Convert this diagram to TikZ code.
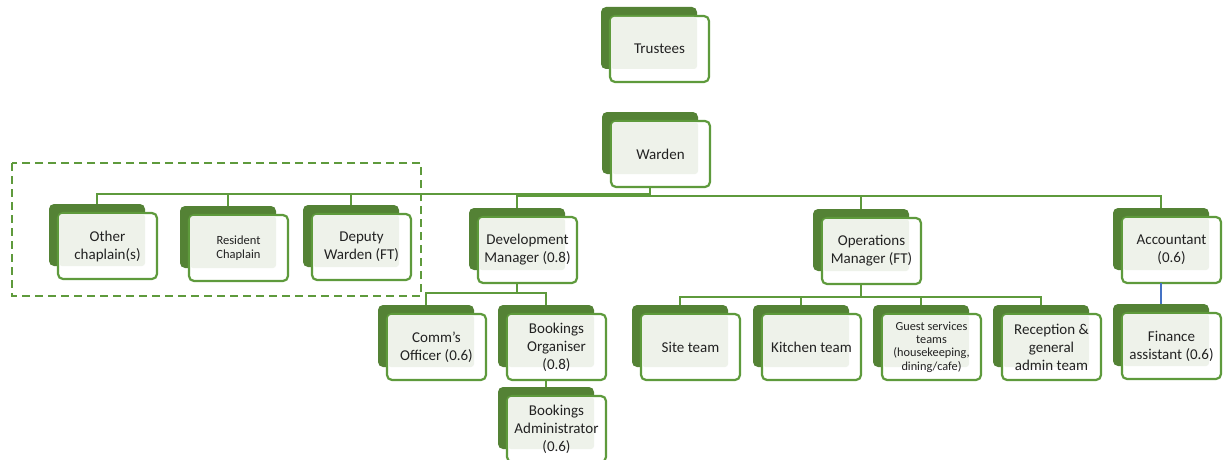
\documentclass[tikz,border=0pt]{standalone}
\usepackage{fontspec}
\setmainfont{Carlito}
\definecolor{gdark}{HTML}{548235}
\definecolor{gline}{HTML}{5E9A3C}
\definecolor{glight}{HTML}{EEF2EA}
\definecolor{txt}{HTML}{222222}
\definecolor{blueline}{HTML}{4472C4}
\tikzset{
 backbox/.style={fill=gdark, rounded corners=5pt, minimum width=96pt, minimum height=62pt, inner sep=0pt, outer sep=0pt},
 framebox/.style={fill=white, draw=gline, line width=2.2pt, rounded corners=5pt, minimum width=99pt, minimum height=66pt, inner sep=0pt, outer sep=0pt},
 labelbox/.style={minimum width=99pt, minimum height=66pt, inner sep=0pt, outer sep=0pt, align=center, text=txt, font=\fontsize{15}{18}\selectfont},
 conn/.style={draw=gline, line width=2.2pt},
 smalltxt/.style={font=\fontsize{12.5}{14}\selectfont},
 tinytxt/.style={font=\fontsize{12.3}{13.4}\selectfont},
}
\newcommand\orgbox[5][]{%
 \node[backbox] (#2B) at (#3+48,#4+31) {};
 \node[framebox] (#2F) at (#3+58.5,#4+42) {};
 \fill[glight, rounded corners=3pt] (#3+10,#4+10) rectangle (#3+96,#4+62);
 \node[labelbox,#1] (#2) at (#3+58.5,#4+42) {#5};
}
\begin{document}
\begin{tikzpicture}[x=1pt,y=-1pt]
\useasboundingbox (0,0) rectangle (1224,460);
\fill[white] (0,0) rectangle (1224,460);

\orgbox{trust}{601}{7}{Trustees}
\orgbox{ward}{602}{112}{Warden}
\orgbox{oc}{49}{204}{Other\\chaplain(s)}
\orgbox[smalltxt]{rc}{180}{206}{Resident\\Chaplain}
\orgbox{dw}{303}{205}{Deputy\\Warden (FT)}
\orgbox{dev}{469}{208}{Development\\Manager (0.8)}
\orgbox{ops}{813}{209}{Operations\\Manager (FT)}
\orgbox{acc}{1113}{208}{Accountant\\(0.6)}
\orgbox{co}{378}{305}{Comm’s\\Officer (0.6)}
\orgbox{bo}{498}{305}{Bookings\\Organiser\\(0.8)}
\orgbox{ba}{498}{387}{Bookings\\Administrator\\(0.6)}
\orgbox{st}{632}{305}{Site team}
\orgbox{kt}{753}{305}{Kitchen team}
\orgbox[tinytxt]{gs}{873}{305}{Guest services\\teams\\(housekeeping,\\dining/cafe)}
\orgbox{ra}{993}{305}{Reception \&\\general\\admin team}
\orgbox{fin}{1113}{304}{Finance\\assistant (0.6)}

\coordinate (busL) at (0,194);
\coordinate (busR) at (0,196);
\coordinate (busD) at (0,293);
\coordinate (busO) at (0,297);

% Warden to its reports
\draw[conn] (wardB |- ward.south) -- (wardB |- busR);
\draw[conn] (wardB |- busL) -| (ocB.north);
\draw[conn] (rcB.north) -- (rcB.north |- busL);
\draw[conn] (dwB.north) -- (dwB.north |- busL);
\draw[conn] (devB.north) |- (accB.north |- busR) -- (accB.north);
\draw[conn] (opsB.north) -- (opsB.north |- busR);

% Development manager
\draw[conn] (devB |- dev.south) -- (devB |- busD);
\draw[conn] (coB.north) |- (boB.north |- busD) -- (boB.north);
\draw[conn] (boB |- bo.south) -- (boB |- baB.north);

% Operations manager
\draw[conn] (opsB |- ops.south) -- (opsB |- busO);
\draw[conn] (stB.north) |- (raB.north |- busO) -- (raB.north);
\draw[conn] (ktB.north) -- (ktB.north |- busO);
\draw[conn] (gsB.north) -- (gsB.north |- busO);

% Accountant
\draw[draw=blueline, line width=2.2pt] (accB |- acc.south) -- (accB |- finB.north);

% Chaplaincy group
\draw[gline, line width=2.4pt, dash pattern=on 8pt off 5pt] (12,163) rectangle (421,296);
\end{tikzpicture}
\end{document}
